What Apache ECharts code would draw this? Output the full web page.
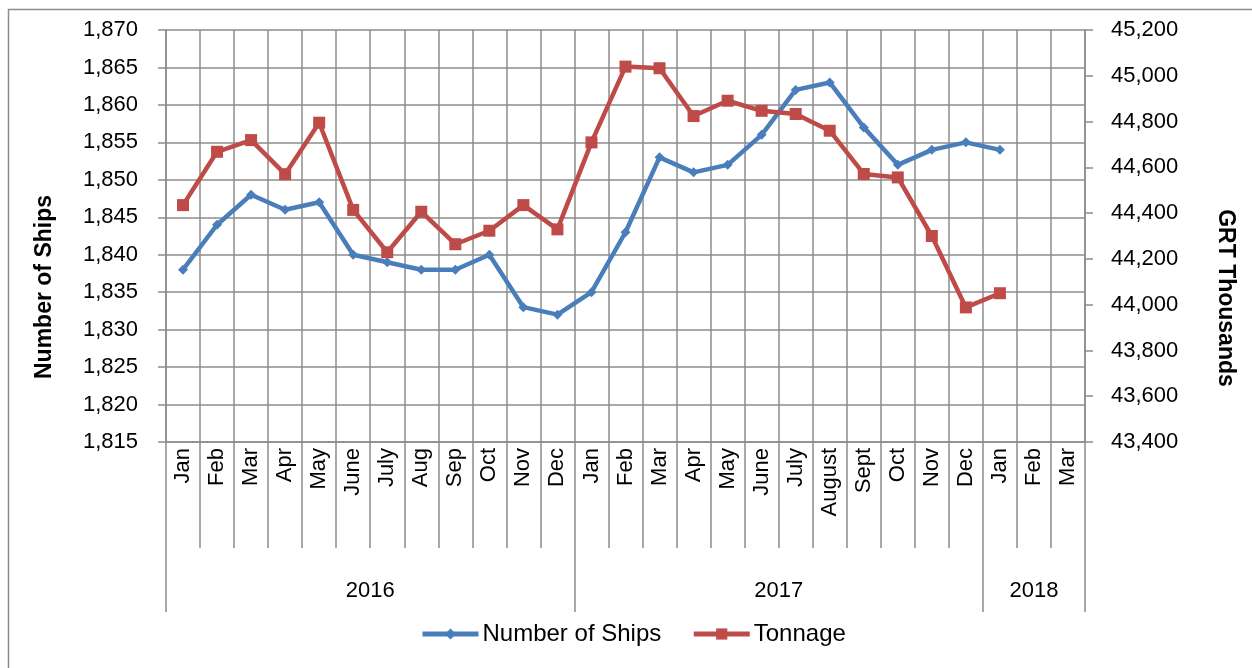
<!DOCTYPE html>
<html>
<head>
<meta charset="utf-8">
<script src="https://cdn.jsdelivr.net/npm/echarts@6/dist/echarts.min.js"></script>
<style>
html,body{margin:0;padding:0;background:#fff;}
#chart{width:1252px;height:668px;}
</style>
</head>
<body>
<div id="chart"></div>
<script>
// ---- data ----
const months = ['Jan','Feb','Mar','Apr','May','June','July','Aug','Sep','Oct','Nov','Dec',
                'Jan','Feb','Mar','Apr','May','June','July','August','Sept','Oct','Nov','Dec',
                'Jan','Feb','Mar'];
const yearNames = ['2016','2017','2018'];
const yearSpans = [12, 12, 3];
const ships = [1838,1844,1848,1846,1847,1840,1839,1838,1838,1840,1833,1832,
               1835,1843,1853,1851,1852,1856,1862,1863,1857,1852,1854,1855,
               1854,null,null];
const tonnage = [44435,44668,44719,44570,44795,44414,44229,44406,44264,44323,44435,44329,
                 44709,45040,45033,44824,44891,44847,44833,44760,44571,44556,44300,43988,
                 44050,null,null];
const leftAxis = {min:1815, max:1870, interval:5};
const rightAxis = {min:43400, max:45200, interval:200};

// year boundaries & centres derived from spans
const yearBounds = [0];
const yearCentres = [];
const centreName = {};
yearSpans.forEach((s,i)=>{
  const start = yearBounds[yearBounds.length-1];
  yearBounds.push(start+s);
  const c = start + s/2;
  yearCentres.push(c);
  centreName[c] = yearNames[i];
});
const totalMonths = months.length;

const FONT = 'Liberation Sans';
const GRID = '#8c8c8c';
const fmt = v => v.toLocaleString('en-US');

const chart = echarts.init(document.getElementById('chart'), null, {renderer:'canvas'});
chart.setOption({
  animation:false,
  backgroundColor:'#fff',
  textStyle:{fontFamily:FONT, color:'#000'},
  grid:{left:166, right:167, top:30, bottom:226, containLabel:false},
  legend:{
    left:420, top:622, padding:0,
    itemWidth:56, itemHeight:14, itemGap:30,
    lineStyle:{width:5},
    textStyle:{fontFamily:FONT, fontSize:24, color:'#000', padding:[0,0,0,-1]},
    data:['Number of Ships','Tonnage']
  },
  xAxis:[
    {
      type:'category', data:months, boundaryGap:true, position:'bottom',
      axisLine:{show:true, lineStyle:{color:GRID, width:1.5}},
      axisTick:{show:true, interval:0, length:106, lineStyle:{color:GRID, width:1.5}},
      axisLabel:{interval:0, rotate:90, margin:6, fontFamily:FONT, fontSize:22, color:'#000'},
      splitLine:{show:true, interval:0, lineStyle:{color:GRID, width:1.5}}
    },
    {
      type:'value', min:0, max:totalMonths, position:'bottom', offset:106,
      axisLine:{show:false},
      axisTick:{show:true, customValues:yearBounds, length:64, lineStyle:{color:GRID, width:1.5}},
      axisLabel:{show:true, customValues:yearCentres, margin:32, fontFamily:FONT, fontSize:22, color:'#000',
                 formatter: v => centreName[v] || ''},
      splitLine:{show:false}
    }
  ],
  yAxis:[
    {
      type:'value', min:leftAxis.min, max:leftAxis.max, interval:leftAxis.interval, position:'left',
      axisLine:{show:true, lineStyle:{color:GRID, width:1.5}},
      axisTick:{show:true, length:8, lineStyle:{color:GRID, width:1.5}},
      axisLabel:{margin:28, fontFamily:FONT, fontSize:22, color:'#000', formatter:fmt},
      splitLine:{show:true, lineStyle:{color:GRID, width:1.5}}
    },
    {
      type:'value', min:rightAxis.min, max:rightAxis.max, interval:rightAxis.interval, position:'right',
      axisLine:{show:true, lineStyle:{color:GRID, width:1.5}},
      axisTick:{show:true, length:8, lineStyle:{color:GRID, width:1.5}},
      axisLabel:{margin:26, fontFamily:FONT, fontSize:22, color:'#000', formatter:fmt},
      splitLine:{show:false}
    }
  ],
  graphic:[
    {type:'rect', shape:{x:8.5, y:9.5, width:1400, height:800}, silent:true, z:-10,
     style:{fill:'none', stroke:'#8c8c8c', lineWidth:1.5}},
    {type:'text', x:45, y:287, rotation:Math.PI/2, silent:true,
     style:{text:'Number of Ships', font:'bold 23px "Liberation Sans"', fill:'#000', align:'center', verticalAlign:'middle'}},
    {type:'text', x:1225, y:298, rotation:-Math.PI/2, silent:true,
     style:{text:'GRT Thousands', font:'bold 23px "Liberation Sans"', fill:'#000', align:'center', verticalAlign:'middle'}}
  ],
  series:[
    {
      name:'Number of Ships', type:'line', xAxisIndex:0, yAxisIndex:0, data:ships,
      symbol:'diamond', symbolSize:10, connectNulls:false,
      lineStyle:{color:'#4A7EBB', width:4.5},
      itemStyle:{color:'#4A7EBB'}
    },
    {
      name:'Tonnage', type:'line', xAxisIndex:0, yAxisIndex:1, data:tonnage,
      symbol:'rect', symbolSize:12, connectNulls:false,
      lineStyle:{color:'#BE4B48', width:4.5},
      itemStyle:{color:'#BE4B48'}
    }
  ]
});
</script>
</body>
</html>
